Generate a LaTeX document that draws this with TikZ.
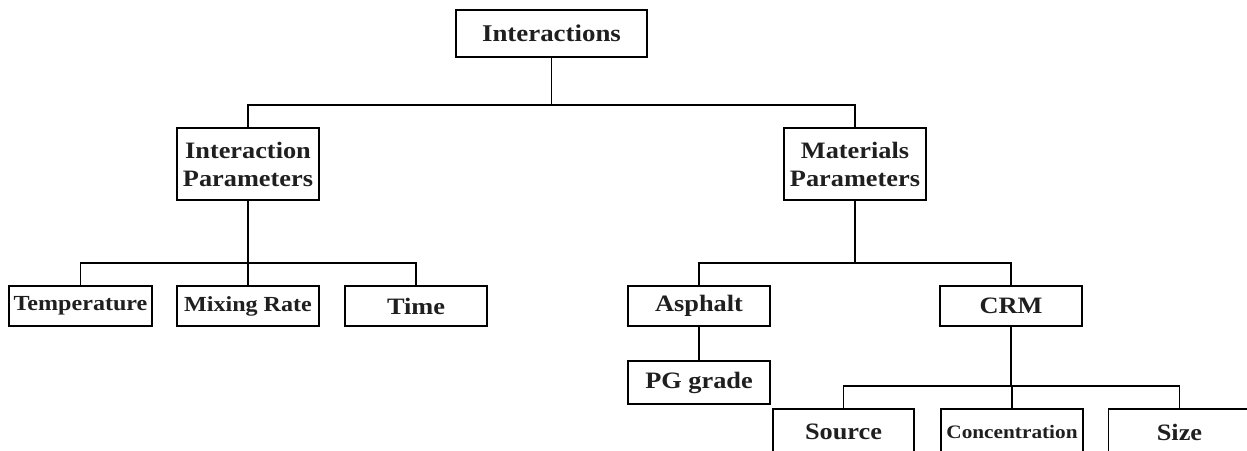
\documentclass[tikz,border=0pt]{standalone}
\usepackage{fontspec}
\setmainfont[FakeStretch=1.12]{Liberation Serif}
\begin{document}
\begin{tikzpicture}[x=1pt,y=-1pt,
  box/.style={draw=black,line width=1.8pt,fill=white,inner sep=0pt,align=center,
    font=\fontsize{23.5}{28}\selectfont\bfseries,text=black!88},
  link/.style={draw=black,line width=1.6pt}]
\useasboundingbox (0,0) rectangle (1247,450);
\clip (0,0) rectangle (1247,450);
% bus levels
\coordinate (b1) at (0,105);
\coordinate (b2) at (0,263);
\coordinate (b3) at (0,386);
% nodes
\node[box,minimum width=191pt,minimum height=47pt,font=\fontsize{24}{26}\selectfont\bfseries] (int) at (551.5,33.5) {Interactions};
\node[box,minimum width=142pt,minimum height=72pt] (ip) at (248,164) {Interaction\\Parameters};
\node[box,minimum width=142pt,minimum height=72pt] (mp) at (855,164) {Materials\\Parameters};
\node[box,minimum width=143pt,minimum height=40pt,font=\fontsize{21.5}{24}\selectfont\bfseries] (temp) at (80.5,306) {Temperature};
\node[box,minimum width=142pt,minimum height=40pt,font=\fontsize{21.5}{24}\selectfont\bfseries] (mix) at (248,306) {Mixing Rate};
\node[box,minimum width=142pt,minimum height=40pt] (time) at (416,306) {Time};
\node[box,minimum width=142pt,minimum height=40pt] (asp) at (699,306) {Asphalt};
\node[box,minimum width=142pt,minimum height=40pt] (crm) at (1011,306) {CRM};
\node[box,minimum width=142pt,minimum height=43pt] (pg) at (699,382.5) {PG grade};
\node[box,minimum width=141pt,minimum height=46pt] (src) at (843.5,432) {Source};
\node[box,minimum width=142pt,minimum height=46pt,font=\fontsize{19}{21}\selectfont\bfseries] (conc) at (1012,432) {Concentration};
\node[box,minimum width=142pt,minimum height=46pt] (size) at (1179.5,432) {Size};
% connectors
\draw[link] (int.south) -- (int.south |- b1);
\draw[link] (ip.north) |- (mp.north |- b1) -- (mp.north);
\draw[link] (ip.south) -- (ip.south |- b2);
\draw[link] (temp.north) |- (time.north |- b2) -- (time.north);
\draw[link] (mix.north) -- (mix.north |- b2);
\draw[link] (mp.south) -- (mp.south |- b2);
\draw[link] (asp.north) |- (crm.north |- b2) -- (crm.north);
\draw[link] (asp.south) -- (pg.north);
\draw[link] (crm.south) -- (crm.south |- b3);
\draw[link] (src.north) |- (size.north |- b3) -- (size.north);
\draw[link] (conc.north) -- (conc.north |- b3);
\end{tikzpicture}
\end{document}
